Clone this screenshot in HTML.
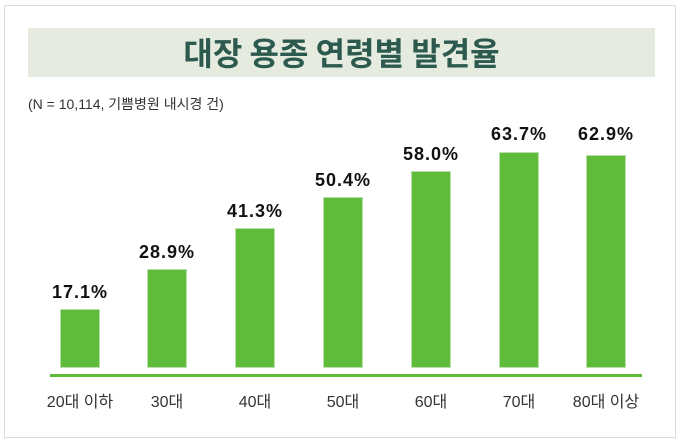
<!DOCTYPE html><html><head><meta charset="utf-8"><style>
body{margin:0;width:680px;height:443px;background:#fff;position:relative;overflow:hidden;font-family:"Liberation Sans","Noto Sans CJK KR",sans-serif}
.frame{position:absolute;left:4px;top:5px;width:670px;height:431px;border:1px solid #dcdcd2}
.title{position:absolute;left:28px;top:28px;width:627px;height:49px;background:#e6ebdf;color:#2d5a4f;font-weight:bold;font-size:32px;text-align:center;line-height:49px;font-family:"Noto Sans CJK KR",sans-serif}
.note{position:absolute;left:28px;top:94px;font-size:14px;color:#333}
.bar{position:absolute;width:38px;background:#5fbb3a;box-shadow:0 0 0 1px #b9e0a8}
.v{position:absolute;width:100px;text-align:center;font-size:18px;color:#111;font-weight:bold;letter-spacing:1px}
.c{position:absolute;width:100px;text-align:center;font-size:16px;color:#333;top:388px}
.axis{position:absolute;left:50px;top:374px;width:592px;height:3px;background:#5fbb3a}
</style></head><body>
<div class="frame"></div>
<div class="title">대장 용종 연령별 발견율</div>
<div class="note">(N = 10,114, 기쁨병원 내시경 건)</div>
<div class="axis"></div>
<div class="bar" style="left:61px;top:310px;height:57px"></div><div class="v" style="left:30px;top:282px">17.1%</div><div class="c" style="left:30px">20대 이하</div>
<div class="bar" style="left:148px;top:270px;height:97px"></div><div class="v" style="left:117px;top:242px">28.9%</div><div class="c" style="left:117px">30대</div>
<div class="bar" style="left:236px;top:229px;height:138px"></div><div class="v" style="left:205px;top:201px">41.3%</div><div class="c" style="left:205px">40대</div>
<div class="bar" style="left:324px;top:198px;height:169px"></div><div class="v" style="left:293px;top:170px">50.4%</div><div class="c" style="left:293px">50대</div>
<div class="bar" style="left:412px;top:172px;height:195px"></div><div class="v" style="left:381px;top:144px">58.0%</div><div class="c" style="left:381px">60대</div>
<div class="bar" style="left:500px;top:153px;height:214px"></div><div class="v" style="left:469px;top:124px">63.7%</div><div class="c" style="left:469px">70대</div>
<div class="bar" style="left:587px;top:156px;height:211px"></div><div class="v" style="left:556px;top:124px">62.9%</div><div class="c" style="left:556px">80대 이상</div>
</body></html>
